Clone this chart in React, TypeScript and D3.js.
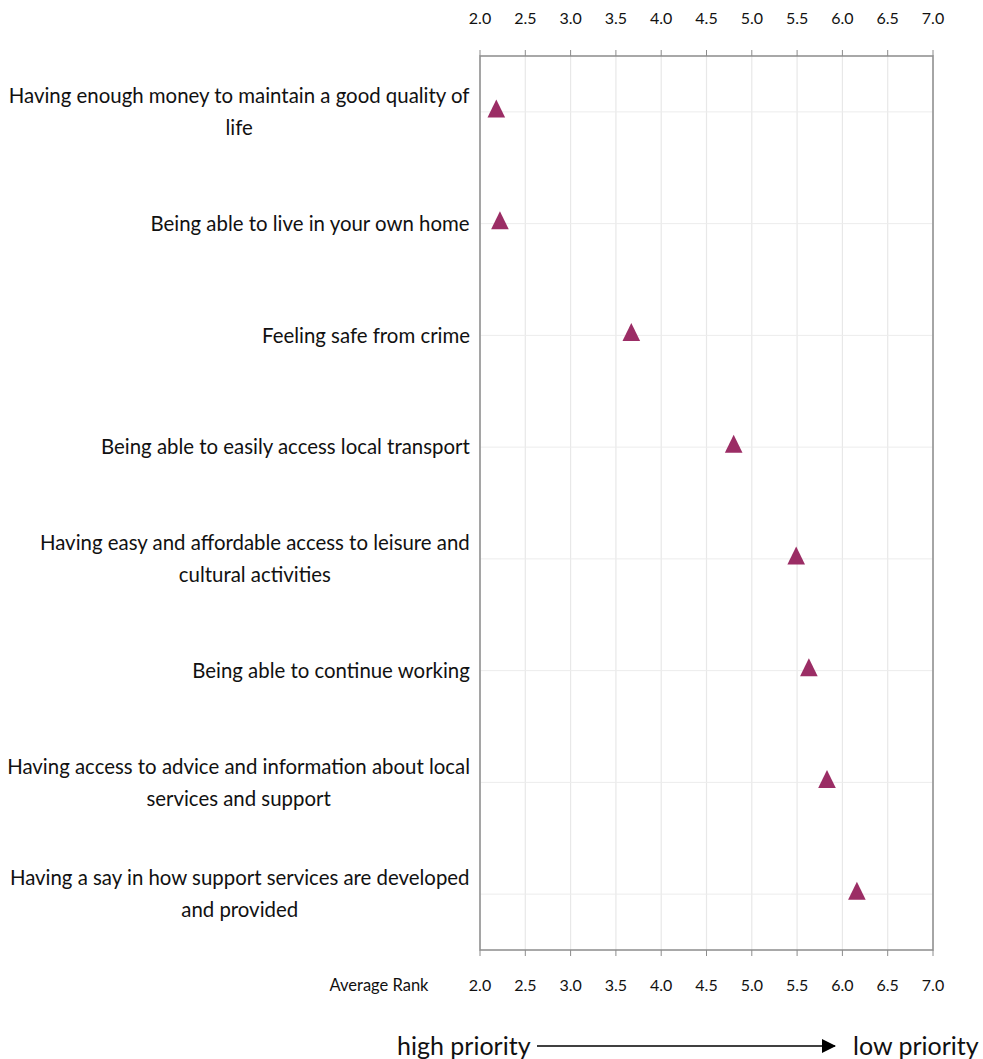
import React from "react";
import * as d3 from "d3";

const categories: string[] = [
  "Having enough money to maintain a good quality of life",
  "Being able to live in your own home",
  "Feeling safe from crime",
  "Being able to easily access local transport",
  "Having easy and affordable access to leisure and cultural activities",
  "Being able to continue working",
  "Having access to advice and information about local services and support",
  "Having a say in how support services are developed and provided",
];
const averageRank: number[] = [2.18, 2.22, 3.67, 4.8, 5.49, 5.63, 5.83, 6.16];
const xTicks: number[] = [2.0, 2.5, 3.0, 3.5, 4.0, 4.5, 5.0, 5.5, 6.0, 6.5, 7.0];

const W = 983;
const H = 1059;
const FONT = "Lato, 'Open Sans', sans-serif";
const LABEL_SIZE = 20.4;
const WRAP = 466;

let ctxCache: CanvasRenderingContext2D | null = null;
function measure(text: string): number {
  if (!ctxCache) ctxCache = document.createElement("canvas").getContext("2d")!;
  ctxCache.font = `${LABEL_SIZE}px Lato`;
  return ctxCache.measureText(text).width;
}

function wrap(text: string, maxW: number): string[] {
  const words = text.split(" ");
  const lines: string[] = [];
  let cur = "";
  for (const w of words) {
    const t = cur ? cur + " " + w : w;
    if (measure(t) > maxW && cur) {
      lines.push(cur);
      cur = w;
    } else cur = t;
  }
  if (cur) lines.push(cur);
  return lines;
}

export default function App() {
  const left = 480, right = 933, top = 56, bottom = 950;
  const x = d3.scaleLinear().domain([2, 7]).range([left, right]);
  const y = d3.scaleBand<string>().domain(categories).range([top, bottom]);

  const triPath = (cx: number, cy: number) => {
    const p = d3.path();
    p.moveTo(cx, cy - 12.5);
    p.lineTo(cx + 8.8, cy + 5.5);
    p.lineTo(cx - 8.8, cy + 5.5);
    p.closePath();
    return p.toString();
  };

  return (
    <svg width={W} height={H} style={{ position: "absolute", left: 0, top: 0, background: "#fff" }} fontFamily={FONT}>
      {xTicks.map((t) => (
        <line key={"gv" + t} x1={x(t)} x2={x(t)} y1={top} y2={bottom} stroke="#e8e8e8" strokeWidth={1.2} />
      ))}
      {categories.map((c) => {
        const cy = y(c)! + y.bandwidth() / 2;
        return <line key={"gh" + c} x1={left} x2={right} y1={cy} y2={cy} stroke="#ececec" strokeWidth={1} />;
      })}
      <rect x={left} y={top} width={right - left} height={bottom - top} fill="none" stroke="#8c8c8c" strokeWidth={1.5} />
      {xTicks.map((t) => (
        <g key={"tk" + t}>
          <line x1={x(t)} x2={x(t)} y1={top - 6} y2={top} stroke="#8c8c8c" strokeWidth={1} />
          <line x1={x(t)} x2={x(t)} y1={bottom} y2={bottom + 6} stroke="#8c8c8c" strokeWidth={1} />
          <text x={x(t)} y={24} textAnchor="middle" fontSize={16} fill="#111">{t.toFixed(1)}</text>
          <text x={x(t)} y={991} textAnchor="middle" fontSize={16} fill="#111">{t.toFixed(1)}</text>
        </g>
      ))}
      <text x={379} y={991} textAnchor="middle" fontSize={16.5} fill="#111">Average Rank</text>
      {categories.map((c) => {
        const cy = y(c)! + y.bandwidth() / 2;
        const lines = wrap(c, WRAP);
        const maxW = Math.max(...lines.map(measure));
        const cx = 470 - maxW / 2;
        const lh = 32;
        const y0 = cy - ((lines.length - 1) * lh) / 2;
        return (
          <text key={"lb" + c} textAnchor="middle" fontSize={LABEL_SIZE} fill="#111">
            {lines.map((l, i) => (
              <tspan key={i} x={cx} y={y0 + i * lh} dy="0.35em">{l}</tspan>
            ))}
          </text>
        );
      })}
      {categories.map((c, i) => {
        const cy = y(c)! + y.bandwidth() / 2;
        return <path key={"pt" + c} d={triPath(x(averageRank[i]), cy)} fill="#9b2d65" />;
      })}
      <defs>
        <marker id="arr" markerWidth="14" markerHeight="14" refX="13" refY="7" orient="auto" markerUnits="userSpaceOnUse">
          <path d="M0,0 L14,7 L0,14 Z" fill="#000" />
        </marker>
      </defs>
      <text x={397} y={1055} fontSize={25} fill="#111">high priority</text>
      <line x1={537} x2={835} y1={1046} y2={1046} stroke="#000" strokeWidth={1.3} markerEnd="url(#arr)" />
      <text x={853} y={1055} fontSize={25} fill="#111">low priority</text>
    </svg>
  );
}
